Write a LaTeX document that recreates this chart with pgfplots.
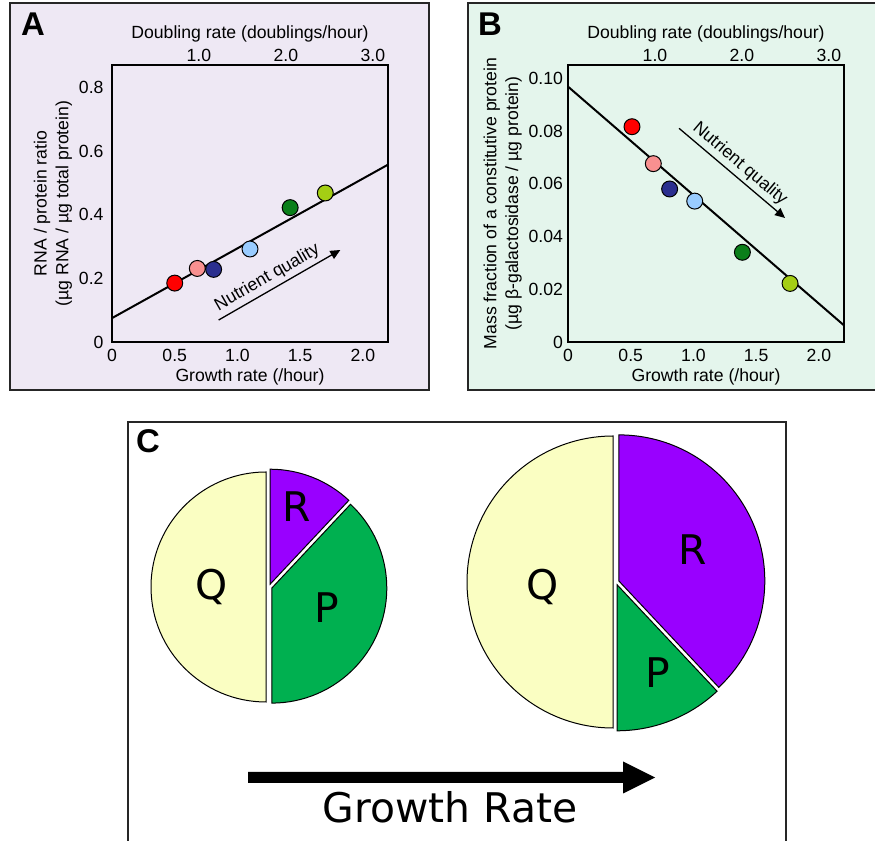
\documentclass[border=0pt]{standalone}
\usepackage{pgfplots}
\pgfplotsset{compat=1.18}
\usepackage{fontspec}
\setmainfont{Liberation Sans}
\newfontfamily\dv{DejaVu Sans}
\usetikzlibrary{arrows.meta}
\definecolor{bgA}{HTML}{EEE8F4}
\definecolor{bgB}{HTML}{E4F5EC}
\definecolor{cRed}{HTML}{FF0000}
\definecolor{cPink}{HTML}{F89090}
\definecolor{cNavy}{HTML}{2B2F8F}
\definecolor{cLBlue}{HTML}{99CCFF}
\definecolor{cDGreen}{HTML}{0A7F1A}
\definecolor{cYGreen}{HTML}{A4CE14}
\definecolor{pQ}{HTML}{FAFEC2}
\definecolor{pR}{HTML}{9900FF}
\definecolor{pP}{HTML}{00B050}
\newcommand\fs{\fontsize{17.7}{22}\selectfont}
\newcommand\bigfont{\fontsize{41}{44}\selectfont\dv}
% pie slice: cx, cy, r, start angle, end angle, colour
\newcommand{\slice}[6]{%
  \filldraw[fill=#6, draw=black, line width=1bp]
  ([shift={({((#4)+(#5))/2}:3bp)}]axis cs:#1,#2) -- ++({#4}:#3bp)
  arc[start angle={#4}, end angle={#5}, radius=#3bp] -- cycle;}
\pgfplotsset{
  panel/.style={anchor=south west, scale only axis, width=276bp, height=277bp,
    xmin=0, xmax=2.2, axis line style={line width=2.2bp},
    tick style={draw=none}, ticklabel style={font=\fs}, label style={font=\fs},
    xticklabel shift=4bp,
    /pgf/number format/assume math mode=true},
  pt/.style={only marks, mark=*, mark size=8pt, mark options={fill=#1, draw=black, line width=1bp}}
}
\begin{document}
\begin{tikzpicture}[x=1bp,y=1bp]
% panel frames
\filldraw[fill=bgA, draw=black!85, line width=1.8bp] (10,451) rectangle (429,838);
\filldraw[fill=bgB, draw=black!85, line width=1.8bp] (468,451) rectangle (885,838);
\filldraw[fill=white, draw=black!85, line width=1.8bp] (128,-8) rectangle (786,419);
\node[font=\fontsize{33}{35}\selectfont\bfseries] at (33,817) {A};
\node[font=\fontsize{33}{35}\selectfont\bfseries] at (490,817) {B};
\node[font=\fontsize{33}{35}\selectfont\bfseries] at (148,400) {C};

% ---------- Panel C ----------
\begin{axis}[at={(0bp,0bp)}, anchor=south west, x=1bp, y=1bp,
  xmin=0, xmax=875, ymin=0, ymax=841, hide axis, clip=false]
\addplot[draw=none] coordinates {(0,0)};
% slow growth: R 12%, P 38%, Q 50%
\slice{269}{254}{115}{90}{90-3.6*12}{pR}
\slice{269}{254}{115}{90-3.6*12}{90-3.6*(12+38)}{pP}
\slice{269}{254}{115}{90-3.6*(12+38)}{90-3.6*100}{pQ}
% fast growth: R 38%, P 12%, Q 50%
\slice{616}{259}{146}{90}{90-3.6*38}{pR}
\slice{616}{259}{146}{90-3.6*38}{90-3.6*(38+12)}{pP}
\slice{616}{259}{146}{90-3.6*(38+12)}{90-3.6*100}{pQ}
\node[font=\bigfont, anchor=base] at (axis cs:212,241) {Q};
\node[font=\bigfont, anchor=base] at (axis cs:297,319) {R};
\node[font=\bigfont, anchor=base] at (axis cs:327,218) {P};
\node[font=\bigfont, anchor=base] at (axis cs:543,241) {Q};
\node[font=\bigfont, anchor=base] at (axis cs:693,276) {R};
\node[font=\bigfont, anchor=base] at (axis cs:658,153) {P};
\fill[black] (axis cs:248,58) -- (axis cs:623,58) -- (axis cs:623,47.5) -- (axis cs:655,63.5)
  -- (axis cs:623,79.5) -- (axis cs:623,69) -- (axis cs:248,69) -- cycle;
\node[font=\bigfont, anchor=base] at (axis cs:450,18) {Growth Rate};
\end{axis}

% ---------- Panel A ----------
\begin{axis}[panel, at={(112bp,499bp)}, ymin=0, ymax=0.87,
  yticklabel shift=5bp,
  xtick={0,0.5,1,1.5,2}, xticklabels={0,0.5,1.0,1.5,2.0},
  ytick={0,0.2,0.4,0.6,0.8}, yticklabels={0,0.2,0.4,0.6,0.8},
  xlabel={Growth rate (/hour)},
  ylabel={RNA / protein ratio\\(µg RNA / µg total protein)},
  ylabel style={align=center}]
\addplot[black, line width=2bp] coordinates {(0,0.075) (2.2,0.557)};
\addplot[pt=cRed] coordinates {(0.50,0.185)};
\addplot[pt=cPink] coordinates {(0.68,0.231)};
\addplot[pt=cNavy] coordinates {(0.81,0.228)};
\addplot[pt=cLBlue] coordinates {(1.10,0.292)};
\addplot[pt=cDGreen] coordinates {(1.42,0.422)};
\addplot[pt=cYGreen] coordinates {(1.70,0.468)};
\draw[-{Triangle[length=10bp,width=9bp]}, line width=1.3bp]
  (axis cs:0.85,0.069) -- node[sloped, above, font=\fs, pos=0.45] {Nutrient quality} (axis cs:1.82,0.289);
\end{axis}
\begin{axis}[panel, at={(112bp,499bp)}, ymin=0, ymax=1,
  axis x line*=top, axis y line=none, xticklabel shift=0bp,
  xtick={0.693,1.386,2.079}, xticklabels={1.0,2.0,3.0},
  xlabel={Doubling rate (doublings/hour)}]
\addplot[draw=none] coordinates {(0,0)};
\end{axis}

% ---------- Panel B ----------
\begin{axis}[panel, at={(568bp,499bp)}, ymin=0, ymax=0.105,
  yticklabel shift=1.5bp,
  xtick={0,0.5,1,1.5,2}, xticklabels={0,0.5,1.0,1.5,2.0},
  ytick={0,0.02,0.04,0.06,0.08,0.10}, yticklabels={0,0.02,0.04,0.06,0.08,0.10},
  xlabel={Growth rate (/hour)},
  ylabel={Mass fraction of a constitutive protein\\(µg β-galactosidase / µg protein)},
  ylabel style={align=center}]
\addplot[black, line width=2bp] coordinates {(0,0.0968) (2.2,0.0063)};
\addplot[pt=cRed] coordinates {(0.51,0.0816)};
\addplot[pt=cPink] coordinates {(0.68,0.0676)};
\addplot[pt=cNavy] coordinates {(0.81,0.0580)};
\addplot[pt=cLBlue] coordinates {(1.01,0.0534)};
\addplot[pt=cDGreen] coordinates {(1.39,0.0340)};
\addplot[pt=cYGreen] coordinates {(1.77,0.0222)};
\draw[-{Triangle[length=10bp,width=9bp]}, line width=1.3bp]
  (axis cs:0.885,0.081) -- node[sloped, above, font=\fs, pos=0.5] {Nutrient quality} (axis cs:1.73,0.047);
\end{axis}
\begin{axis}[panel, at={(568bp,499bp)}, ymin=0, ymax=1,
  axis x line*=top, axis y line=none, xticklabel shift=0bp,
  xtick={0.693,1.386,2.079}, xticklabels={1.0,2.0,3.0},
  xlabel={Doubling rate (doublings/hour)}]
\addplot[draw=none] coordinates {(0,0)};
\end{axis}

\pgfresetboundingbox
\path[use as bounding box] (0,0) rectangle (875,841);
\end{tikzpicture}
\end{document}
